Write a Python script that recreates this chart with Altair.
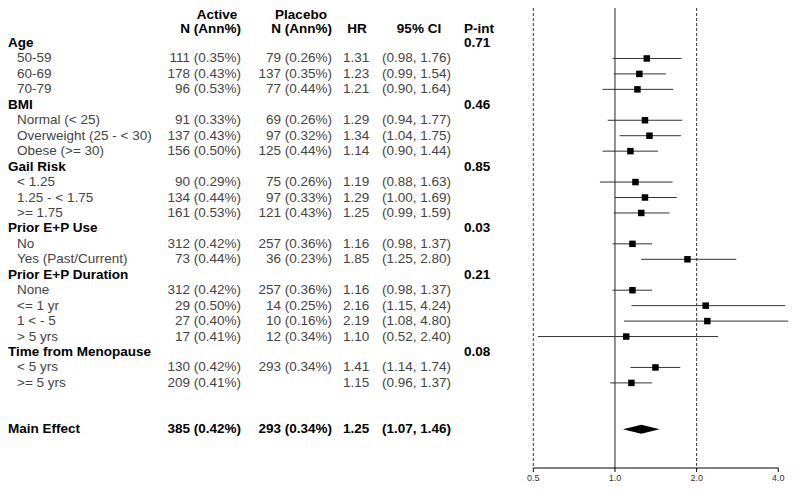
import altair as alt
import pandas as pd
import numpy as np

# ---------------- data ----------------
labels = ["Age", "50-59", "60-69", "70-79",
          "BMI", "Normal (< 25)", "Overweight (25 - < 30)", "Obese (>= 30)",
          "Gail Risk", "< 1.25", "1.25 - < 1.75", ">= 1.75",
          "Prior E+P Use", "No", "Yes (Past/Current)",
          "Prior E+P Duration", "None", "<= 1 yr", "1 < - 5", "> 5 yrs",
          "Time from Menopause", "< 5 yrs", ">= 5 yrs",
          "Main Effect"]
kinds = ["group", "item", "item", "item",
         "group", "item", "item", "item",
         "group", "item", "item", "item",
         "group", "item", "item",
         "group", "item", "item", "item", "item",
         "group", "item", "item",
         "main"]
rows = [0, 1, 2, 3, 4, 5, 6, 7, 8, 9, 10, 11, 12, 13, 14, 15, 16, 17, 18, 19, 20, 21, 22, 25]
active_n = ["", "111 (0.35%)", "178 (0.43%)", "96 (0.53%)",
            "", "91 (0.33%)", "137 (0.43%)", "156 (0.50%)",
            "", "90 (0.29%)", "134 (0.44%)", "161 (0.53%)",
            "", "312 (0.42%)", "73 (0.44%)",
            "", "312 (0.42%)", "29 (0.50%)", "27 (0.40%)", "17 (0.41%)",
            "", "130 (0.42%)", "209 (0.41%)",
            "385 (0.42%)"]
placebo_n = ["", "79 (0.26%)", "137 (0.35%)", "77 (0.44%)",
             "", "69 (0.26%)", "97 (0.32%)", "125 (0.44%)",
             "", "75 (0.26%)", "97 (0.33%)", "121 (0.43%)",
             "", "257 (0.36%)", "36 (0.23%)",
             "", "257 (0.36%)", "14 (0.25%)", "10 (0.16%)", "12 (0.34%)",
             "", "293 (0.34%)", "",
             "293 (0.34%)"]
hr = [None, 1.31, 1.23, 1.21,
      None, 1.29, 1.34, 1.14,
      None, 1.19, 1.29, 1.25,
      None, 1.16, 1.85,
      None, 1.16, 2.16, 2.19, 1.10,
      None, 1.41, 1.15,
      1.25]
ci_lo = [None, 0.98, 0.99, 0.90,
         None, 0.94, 1.04, 0.90,
         None, 0.88, 1.00, 0.99,
         None, 0.98, 1.25,
         None, 0.98, 1.15, 1.08, 0.52,
         None, 1.14, 0.96,
         1.07]
ci_hi = [None, 1.76, 1.54, 1.64,
         None, 1.77, 1.75, 1.44,
         None, 1.63, 1.69, 1.59,
         None, 1.37, 2.80,
         None, 1.37, 4.24, 4.80, 2.40,
         None, 1.74, 1.37,
         1.46]
p_int = ["0.71", "", "", "",
         "0.46", "", "", "",
         "0.85", "", "", "",
         "0.03", "", "",
         "0.21", "", "", "", "",
         "0.08", "", "",
         ""]
axis_ticks = [0.5, 1.0, 2.0, 4.0]
ref_dashed = [0.5, 2.0]
ref_solid = [1.0]

# ---------------- tables ----------------
df = pd.DataFrame({
    "label": labels, "kind": kinds, "row": rows,
    "active": active_n, "placebo": placebo_n,
    "hr": hr, "lo": ci_lo, "hi": ci_hi, "pint": p_int,
})
df["hr_txt"] = [f"{v:.2f}" if v is not None and not pd.isna(v) else "" for v in df["hr"]]
df["ci_txt"] = [f"({a:.2f}, {b:.2f})" if a is not None and not pd.isna(a) else ""
                for a, b in zip(df["lo"], df["hi"])]

est = df[(df["kind"] == "item") & df["hr"].notna()]
main = df[df["kind"] == "main"].iloc[0]
DH = 0.29
diamond = pd.DataFrame({
    "x": [main["lo"], main["hr"], main["hi"]],
    "y": [main["row"], main["row"] - DH, main["row"]],
    "y2": [main["row"], main["row"] + DH, main["row"]],
})
ticks_df = pd.DataFrame({"t": axis_ticks, "lab": [f"{t:.1f}" for t in axis_ticks]})

# ---------------- layout ----------------
W, H = 780, 460
ROW0, STEP = 35.0, 15.45
yscale = alt.Scale(domain=[-ROW0 / STEP, (H - ROW0) / STEP], reverse=True, nice=False, zero=False)
X05, PER_DOUBLE = 525.3, 81.67
xmin = 0.5 * 2 ** (-X05 / PER_DOUBLE)
xmax = 0.5 * 2 ** ((W - X05) / PER_DOUBLE)
xscale = alt.Scale(type="log", base=2, domain=[xmin, xmax], nice=False, zero=False)

FONT = "Liberation Sans"
FS = 13.5
GRAY = "#444444"

Y = alt.Y("row:Q", scale=yscale, axis=None)


def text_layer(data, field, x, align, bold):
    return alt.Chart(data).mark_text(
        align=align, baseline="middle", font=FONT, fontSize=FS,
        fontWeight="bold" if bold else "normal",
        color="black" if bold else GRAY,
    ).encode(x=alt.value(x), y=Y, text=f"{field}:N")


groups = df[df["kind"] == "group"]
items = df[df["kind"] == "item"]
mains = df[df["kind"] == "main"]

layers = []
# labels
layers.append(text_layer(groups, "label", 0, "left", True))
layers.append(text_layer(items, "label", 9, "left", False))
layers.append(text_layer(mains, "label", 0, "left", True))
# numeric columns
for data, bold in [(items, False), (mains, True)]:
    layers.append(text_layer(data, "active", 233, "right", bold))
    layers.append(text_layer(data, "placebo", 324, "right", bold))
    layers.append(text_layer(data, "hr_txt", 335, "left", bold))
    layers.append(text_layer(data, "ci_txt", 374, "left", bold))
layers.append(text_layer(groups, "pint", 456, "left", True))

# headers
headers = [
    ("Active", 209, "center", 7), ("N (Ann%)", 233, "right", 21),
    ("Placebo", 293, "center", 7), ("N (Ann%)", 324, "right", 21),
    ("HR", 349, "center", 21), ("95% CI", 411, "center", 21), ("P-int", 456, "left", 21),
]
for txt, x, al, y in headers:
    layers.append(
        alt.Chart(pd.DataFrame({"t": [txt]})).mark_text(
            align=al, baseline="middle", font=FONT, fontSize=FS, fontWeight="bold", color="black"
        ).encode(x=alt.value(x), y=alt.value(y), text="t:N")
    )

# reference lines
layers.append(
    alt.Chart(pd.DataFrame({"v": ref_dashed})).mark_rule(
        color="#333333", strokeWidth=1, strokeDash=[3, 2]
    ).encode(x=alt.X("v:Q", scale=xscale, axis=None), y=alt.value(0), y2=alt.value(H))
)
layers.append(
    alt.Chart(pd.DataFrame({"v": ref_solid})).mark_rule(
        color="#222222", strokeWidth=1
    ).encode(x=alt.X("v:Q", scale=xscale, axis=None), y=alt.value(0), y2=alt.value(H))
)
# axis baseline, ticks and labels
layers.append(
    alt.Chart(pd.DataFrame({"a": [min(axis_ticks)], "b": [max(axis_ticks)]})).mark_rule(
        color="black", strokeWidth=1
    ).encode(x=alt.X("a:Q", scale=xscale, axis=None), x2="b:Q", y=alt.value(H))
)
layers.append(
    alt.Chart(ticks_df).mark_rule(color="black", strokeWidth=1).encode(
        x=alt.X("t:Q", scale=xscale, axis=None), y=alt.value(H), y2=alt.value(H + 4)
    )
)
layers.append(
    alt.Chart(ticks_df).mark_text(
        align="center", baseline="top", font=FONT, fontSize=9, color="#333333"
    ).encode(x=alt.X("t:Q", scale=xscale, axis=None), y=alt.value(H + 6), text="lab:N")
)
# CI lines
layers.append(
    alt.Chart(est).mark_rule(color="#333333", strokeWidth=1, clip=True).encode(
        x=alt.X("lo:Q", scale=xscale, axis=None), x2="hi:Q", y=Y
    )
)
# squares
layers.append(
    alt.Chart(est).mark_square(size=42, color="black", opacity=1).encode(
        x=alt.X("hr:Q", scale=xscale, axis=None),
        y=Y,
    )
)
# diamond
layers.append(
    alt.Chart(diamond).mark_area(color="black", orient="vertical", opacity=1).encode(
        x=alt.X("x:Q", scale=xscale, axis=None),
        y=alt.Y("y:Q", scale=yscale, axis=None),
        y2="y2:Q",
    )
)

chart = alt.layer(*layers).properties(
    width=W, height=H,
    autosize=alt.AutoSizeParams(type="none"),
    padding={"left": 0, "top": 0, "right": 0, "bottom": 16},
    background="white",
).configure_view(stroke=None)

chart.save("out.html", embed_options={"renderer": "svg", "actions": False})
